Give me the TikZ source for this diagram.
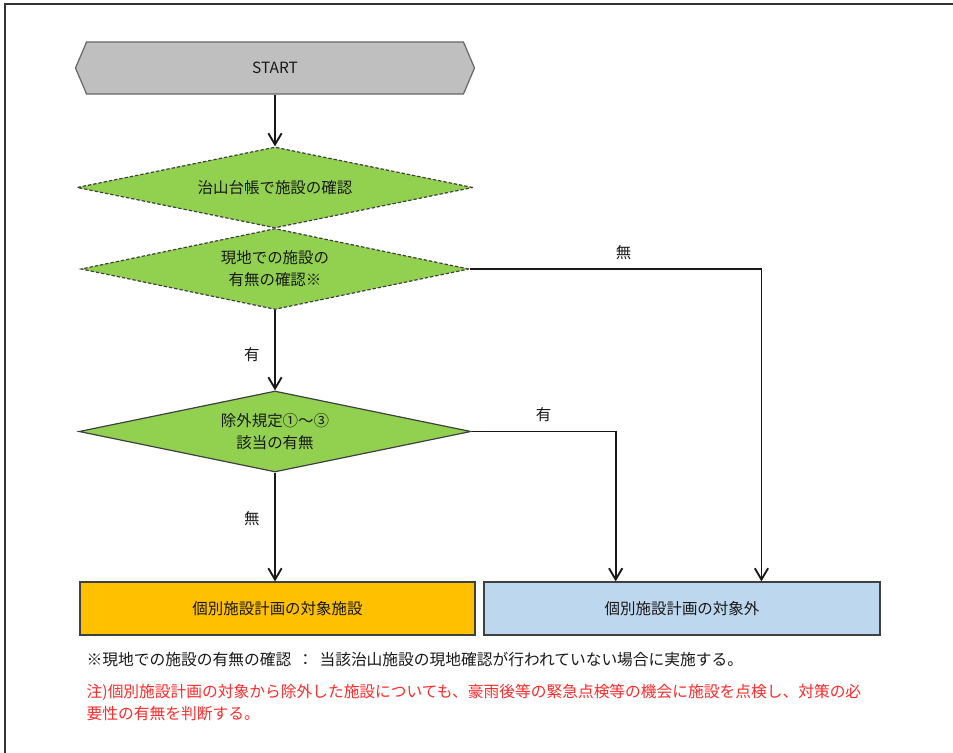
\documentclass[tikz,border=0pt]{standalone}
\usepackage{fontspec}
\setmainfont{Noto Sans CJK JP}
\usetikzlibrary{shapes.geometric, shapes.symbols, arrows.meta, calc}

\definecolor{startgray}{HTML}{BFBFBF}
\definecolor{checkgreen}{HTML}{92D050}
\definecolor{targetorange}{HTML}{FFC000}
\definecolor{outsideblue}{HTML}{BDD7EE}
\definecolor{edgegray}{HTML}{404040}
\definecolor{notered}{HTML}{FF2A2A}

\begin{document}
\begin{tikzpicture}[x=0.75pt, y=-0.75pt,
    every node/.style={font=\fontsize{11.6pt}{16.5pt}\selectfont, text=black!90},
    startbox/.style={signal, signal to=west and east, signal pointer angle=134,
        fill=startgray, draw=black!60, line width=0.9pt,
        minimum width=299.25pt, minimum height=39pt},
    check/.style={diamond, shape aspect=4.8, fill=checkgreen, draw=edgegray, line width=0.9pt,
        inner sep=0pt, align=center, minimum height=60.75pt},
    dashcheck/.style={check, dash pattern=on 2.5pt off 1.5pt},
    result/.style={draw=edgegray, line width=0.9pt, minimum width=296.25pt, minimum height=39.75pt},
    flow/.style={draw=black!90, line width=1.4pt, -{Straight Barb[length=8.5pt, width=10pt]}},
    notetext/.style={font=\fontsize{11.8pt}{16.8pt}\selectfont}
]

    % Frame
    \useasboundingbox (0,0) rectangle (953,753);
    \draw[line width=1.5pt, black!80] (5,753) -- (5,4) -- (953,4);

    % Start
    \node[startbox] (start) at (275,68) {START};

    % Checks
    \node[dashcheck, minimum width=297pt] (ledger) at (275,187.5) {治山台帳で施設の確認};
    \node[dashcheck, minimum width=291pt] (site) at (275,269) {現地での施設の\\有無の確認※};
    \node[check, minimum width=294pt] (exclude) at (275,431.5) {除外規定①～③\\該当の有無};

    % Results
    \node[result, fill=targetorange] (target) at (277.5,608.5) {個別施設計画の対象施設};
    \node[result, fill=outsideblue, minimum width=297pt] (outside) at (682,608.5) {個別施設計画の対象外};

    % Connectors
    \draw[flow] (start.south) -- (ledger.north);
    \draw[flow] (site.south) -- (exclude.north)
        node[pos=0.55, left=7.5pt] {有};
    \draw[flow] (exclude.south) -- (exclude.south |- target.north)
        node[pos=0.42, left=7.5pt] {無};
    \draw[flow] (site.east) -| ($(outside.north west)!0.7!(outside.north east)$)
        node[pos=0.264, above=3pt] {無};
    \draw[flow] (exclude.east) -| ($(outside.north west)!0.333!(outside.north east)$)
        node[pos=0.25, above=3pt] {有};

    % Notes
    \node[notetext, anchor=west] (remark) at (82,660) {※現地での施設の有無の確認\hspace{0.4em}：\hspace{0.4em}当該治山施設の現地確認が行われていない場合に実施する。};
    \node[notetext, anchor=north west, align=left, text=notered] (caution) at (82,679)
        {注)個別施設計画の対象から除外した施設についても、豪雨後等の緊急点検等の機会に施設を点検し、対策の必\\要性の有無を判断する。};

\end{tikzpicture}
\end{document}
